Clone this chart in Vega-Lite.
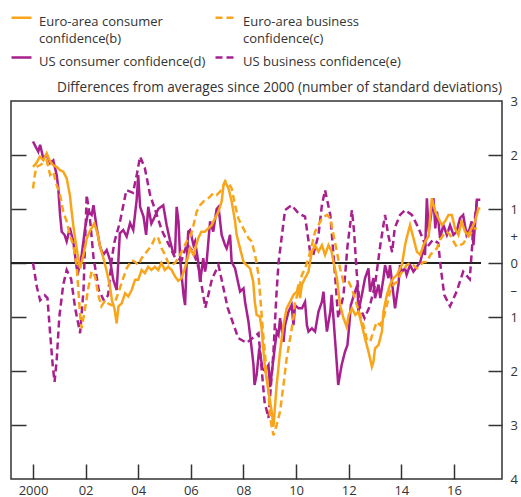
{
  "$schema": "https://vega.github.io/schema/vega-lite/v6.json",
  "width": 491,
  "height": 378,
  "autosize": {"type": "none"},
  "padding": {"left": 11, "top": 101, "right": 19, "bottom": 18},
  "config": {
    "font": "Open Sans",
    "view": {"stroke": "#333333", "strokeWidth": 1.5},
    "axis": {"grid": false, "domain": false, "labelFont": "Open Sans", "labelFontSize": 13, "labelColor": "#333333", "tickColor": "#333333", "tickWidth": 1.5, "title": null},
    "legend": {"orient": "none", "legendX": -1, "legendY": -95, "columns": 2, "title": null, "symbolType": "stroke", "symbolSize": 400, "symbolStrokeWidth": 2.5, "labelFontSize": 13, "labelFont": "Open Sans", "labelColor": "#333333", "labelOffset": 6, "labelLimit": 400, "labelBaseline": "top", "rowPadding": 0, "columnPadding": 4}
  },
  "title": {"text": "Differences from averages since 2000 (number of standard deviations)", "anchor": "end", "frame": "group", "fontSize": 13.6, "fontWeight": "normal", "color": "#333333", "offset": 6, "dy": 95, "font": "Open Sans"},
  "data": {"values": [
    {"s":"US business","t":2000.0,"v":0.0},{"s":"US business","t":2000.15,"v":-0.45},{"s":"US business","t":2000.27,"v":-0.69},{"s":"US business","t":2000.45,"v":-0.6},{"s":"US business","t":2000.55,"v":-0.65},{"s":"US business","t":2000.65,"v":-1.3},{"s":"US business","t":2000.75,"v":-1.9},{"s":"US business","t":2000.82,"v":-2.2},{"s":"US business","t":2000.9,"v":-1.8},{"s":"US business","t":2001.0,"v":-1.0},{"s":"US business","t":2001.15,"v":-0.4},{"s":"US business","t":2001.28,"v":-0.13},{"s":"US business","t":2001.45,"v":-0.3},{"s":"US business","t":2001.6,"v":-0.83},{"s":"US business","t":2001.79,"v":-1.3},{"s":"US business","t":2001.92,"v":-0.5},{"s":"US business","t":2002.04,"v":1.26},{"s":"US business","t":2002.15,"v":0.9},{"s":"US business","t":2002.3,"v":0.1},{"s":"US business","t":2002.5,"v":-0.5},{"s":"US business","t":2002.7,"v":-0.7},{"s":"US business","t":2002.85,"v":-0.6},{"s":"US business","t":2003.0,"v":0.1},{"s":"US business","t":2003.1,"v":0.4},{"s":"US business","t":2003.3,"v":0.75},{"s":"US business","t":2003.55,"v":1.35},{"s":"US business","t":2003.8,"v":1.3},{"s":"US business","t":2003.95,"v":1.65},{"s":"US business","t":2004.07,"v":1.97},{"s":"US business","t":2004.25,"v":1.76},{"s":"US business","t":2004.45,"v":1.26},{"s":"US business","t":2004.7,"v":0.9},{"s":"US business","t":2004.9,"v":0.6},{"s":"US business","t":2005.2,"v":0.3},{"s":"US business","t":2005.4,"v":0.1},{"s":"US business","t":2005.65,"v":0.05},{"s":"US business","t":2005.85,"v":0.35},{"s":"US business","t":2006.1,"v":0.2},{"s":"US business","t":2006.3,"v":-0.1},{"s":"US business","t":2006.55,"v":-0.83},{"s":"US business","t":2006.8,"v":-0.3},{"s":"US business","t":2007.05,"v":-0.04},{"s":"US business","t":2007.4,"v":-0.83},{"s":"US business","t":2007.8,"v":-1.39},{"s":"US business","t":2008.12,"v":-1.48},{"s":"US business","t":2008.57,"v":-1.3},{"s":"US business","t":2008.8,"v":-2.57},{"s":"US business","t":2008.95,"v":-2.87},{"s":"US business","t":2009.14,"v":-1.64},{"s":"US business","t":2009.25,"v":-0.6},{"s":"US business","t":2009.33,"v":0.0},{"s":"US business","t":2009.58,"v":0.98},{"s":"US business","t":2009.83,"v":1.07},{"s":"US business","t":2010.09,"v":0.92},{"s":"US business","t":2010.34,"v":0.86},{"s":"US business","t":2010.53,"v":0.21},{"s":"US business","t":2010.65,"v":0.15},{"s":"US business","t":2010.85,"v":0.52},{"s":"US business","t":2010.98,"v":1.07},{"s":"US business","t":2011.1,"v":1.35},{"s":"US business","t":2011.3,"v":0.89},{"s":"US business","t":2011.48,"v":-0.22},{"s":"US business","t":2011.6,"v":-1.02},{"s":"US business","t":2011.8,"v":-0.6},{"s":"US business","t":2011.95,"v":0.3},{"s":"US business","t":2012.12,"v":0.98},{"s":"US business","t":2012.2,"v":0.6},{"s":"US business","t":2012.3,"v":-0.16},{"s":"US business","t":2012.43,"v":-0.83},{"s":"US business","t":2012.6,"v":-1.02},{"s":"US business","t":2012.8,"v":-0.8},{"s":"US business","t":2013.0,"v":-0.4},{"s":"US business","t":2013.2,"v":0.33},{"s":"US business","t":2013.38,"v":0.89},{"s":"US business","t":2013.5,"v":0.52},{"s":"US business","t":2013.65,"v":0.2},{"s":"US business","t":2013.75,"v":0.65},{"s":"US business","t":2013.95,"v":0.89},{"s":"US business","t":2014.14,"v":0.98},{"s":"US business","t":2014.4,"v":0.89},{"s":"US business","t":2014.65,"v":0.65},{"s":"US business","t":2014.95,"v":0.28},{"s":"US business","t":2015.2,"v":0.43},{"s":"US business","t":2015.4,"v":0.37},{"s":"US business","t":2015.5,"v":-0.1},{"s":"US business","t":2015.63,"v":-0.59},{"s":"US business","t":2015.85,"v":-0.8},{"s":"US business","t":2016.1,"v":-0.53},{"s":"US business","t":2016.35,"v":-0.16},{"s":"US business","t":2016.6,"v":-0.3},{"s":"US business","t":2016.72,"v":0.52},{"s":"US business","t":2016.87,"v":1.14},{"s":"US business","t":2017.0,"v":1.14},

    {"s":"US consumer","t":2000.0,"v":2.25},{"s":"US consumer","t":2000.2,"v":2.06},{"s":"US consumer","t":2000.27,"v":2.19},{"s":"US consumer","t":2000.39,"v":1.94},{"s":"US consumer","t":2000.52,"v":2.0},{"s":"US consumer","t":2000.65,"v":1.85},{"s":"US consumer","t":2000.77,"v":1.9},{"s":"US consumer","t":2000.9,"v":1.63},{"s":"US consumer","t":2000.96,"v":1.39},{"s":"US consumer","t":2001.03,"v":0.89},{"s":"US consumer","t":2001.09,"v":0.58},{"s":"US consumer","t":2001.2,"v":0.52},{"s":"US consumer","t":2001.28,"v":0.4},{"s":"US consumer","t":2001.4,"v":0.65},{"s":"US consumer","t":2001.53,"v":0.4},{"s":"US consumer","t":2001.66,"v":-0.09},{"s":"US consumer","t":2001.72,"v":-0.16},{"s":"US consumer","t":2001.85,"v":0.15},{"s":"US consumer","t":2001.98,"v":0.65},{"s":"US consumer","t":2002.1,"v":0.95},{"s":"US consumer","t":2002.23,"v":0.89},{"s":"US consumer","t":2002.3,"v":1.07},{"s":"US consumer","t":2002.42,"v":0.65},{"s":"US consumer","t":2002.55,"v":0.3},{"s":"US consumer","t":2002.67,"v":0.15},{"s":"US consumer","t":2002.8,"v":0.24},{"s":"US consumer","t":2002.93,"v":0.05},{"s":"US consumer","t":2003.05,"v":-0.31},{"s":"US consumer","t":2003.18,"v":-0.5},{"s":"US consumer","t":2003.24,"v":0.0},{"s":"US consumer","t":2003.3,"v":0.55},{"s":"US consumer","t":2003.43,"v":0.61},{"s":"US consumer","t":2003.56,"v":0.49},{"s":"US consumer","t":2003.69,"v":0.74},{"s":"US consumer","t":2003.81,"v":0.61},{"s":"US consumer","t":2003.94,"v":1.17},{"s":"US consumer","t":2004.0,"v":1.63},{"s":"US consumer","t":2004.07,"v":1.04},{"s":"US consumer","t":2004.2,"v":0.86},{"s":"US consumer","t":2004.3,"v":0.52},{"s":"US consumer","t":2004.38,"v":1.04},{"s":"US consumer","t":2004.5,"v":0.73},{"s":"US consumer","t":2004.63,"v":0.86},{"s":"US consumer","t":2004.76,"v":1.0},{"s":"US consumer","t":2004.95,"v":1.07},{"s":"US consumer","t":2005.08,"v":0.7},{"s":"US consumer","t":2005.2,"v":0.43},{"s":"US consumer","t":2005.33,"v":0.18},{"s":"US consumer","t":2005.4,"v":0.2},{"s":"US consumer","t":2005.46,"v":1.04},{"s":"US consumer","t":2005.53,"v":0.77},{"s":"US consumer","t":2005.6,"v":0.02},{"s":"US consumer","t":2005.72,"v":-0.59},{"s":"US consumer","t":2005.78,"v":-0.78},{"s":"US consumer","t":2005.84,"v":0.0},{"s":"US consumer","t":2005.9,"v":0.58},{"s":"US consumer","t":2005.97,"v":0.61},{"s":"US consumer","t":2006.1,"v":0.33},{"s":"US consumer","t":2006.16,"v":0.4},{"s":"US consumer","t":2006.28,"v":0.02},{"s":"US consumer","t":2006.35,"v":-0.35},{"s":"US consumer","t":2006.47,"v":0.09},{"s":"US consumer","t":2006.54,"v":-0.16},{"s":"US consumer","t":2006.6,"v":0.02},{"s":"US consumer","t":2006.73,"v":0.77},{"s":"US consumer","t":2006.85,"v":0.58},{"s":"US consumer","t":2006.98,"v":1.0},{"s":"US consumer","t":2007.05,"v":1.04},{"s":"US consumer","t":2007.17,"v":0.52},{"s":"US consumer","t":2007.3,"v":0.33},{"s":"US consumer","t":2007.36,"v":0.27},{"s":"US consumer","t":2007.43,"v":0.4},{"s":"US consumer","t":2007.49,"v":0.52},{"s":"US consumer","t":2007.55,"v":0.02},{"s":"US consumer","t":2007.68,"v":-0.1},{"s":"US consumer","t":2007.87,"v":-0.53},{"s":"US consumer","t":2008.0,"v":-0.47},{"s":"US consumer","t":2008.06,"v":-0.72},{"s":"US consumer","t":2008.19,"v":-1.09},{"s":"US consumer","t":2008.31,"v":-1.58},{"s":"US consumer","t":2008.38,"v":-1.89},{"s":"US consumer","t":2008.42,"v":-2.26},{"s":"US consumer","t":2008.5,"v":-2.07},{"s":"US consumer","t":2008.6,"v":-1.58},{"s":"US consumer","t":2008.72,"v":-1.95},{"s":"US consumer","t":2008.82,"v":-2.0},{"s":"US consumer","t":2008.95,"v":-1.89},{"s":"US consumer","t":2009.01,"v":-2.3},{"s":"US consumer","t":2009.14,"v":-1.77},{"s":"US consumer","t":2009.2,"v":-1.52},{"s":"US consumer","t":2009.27,"v":-1.27},{"s":"US consumer","t":2009.33,"v":-1.33},{"s":"US consumer","t":2009.39,"v":-1.02},{"s":"US consumer","t":2009.52,"v":-1.46},{"s":"US consumer","t":2009.58,"v":-1.15},{"s":"US consumer","t":2009.71,"v":-0.9},{"s":"US consumer","t":2009.83,"v":-0.78},{"s":"US consumer","t":2009.9,"v":-1.15},{"s":"US consumer","t":2009.96,"v":-0.78},{"s":"US consumer","t":2010.09,"v":-0.84},{"s":"US consumer","t":2010.22,"v":-0.84},{"s":"US consumer","t":2010.34,"v":-0.72},{"s":"US consumer","t":2010.41,"v":-1.15},{"s":"US consumer","t":2010.47,"v":-1.27},{"s":"US consumer","t":2010.6,"v":-1.21},{"s":"US consumer","t":2010.72,"v":-1.27},{"s":"US consumer","t":2010.85,"v":-0.9},{"s":"US consumer","t":2010.98,"v":-0.72},{"s":"US consumer","t":2011.04,"v":-0.53},{"s":"US consumer","t":2011.1,"v":-0.9},{"s":"US consumer","t":2011.17,"v":-1.27},{"s":"US consumer","t":2011.3,"v":-0.9},{"s":"US consumer","t":2011.35,"v":-0.59},{"s":"US consumer","t":2011.42,"v":-1.02},{"s":"US consumer","t":2011.55,"v":-1.89},{"s":"US consumer","t":2011.6,"v":-2.26},{"s":"US consumer","t":2011.73,"v":-1.89},{"s":"US consumer","t":2011.86,"v":-1.64},{"s":"US consumer","t":2011.95,"v":-1.52},{"s":"US consumer","t":2012.02,"v":-1.15},{"s":"US consumer","t":2012.08,"v":-0.78},{"s":"US consumer","t":2012.2,"v":-0.59},{"s":"US consumer","t":2012.33,"v":-0.4},{"s":"US consumer","t":2012.37,"v":-0.9},{"s":"US consumer","t":2012.5,"v":-0.59},{"s":"US consumer","t":2012.62,"v":-0.28},{"s":"US consumer","t":2012.75,"v":-0.1},{"s":"US consumer","t":2012.81,"v":-0.53},{"s":"US consumer","t":2012.94,"v":-0.28},{"s":"US consumer","t":2013.0,"v":-0.65},{"s":"US consumer","t":2013.13,"v":-0.4},{"s":"US consumer","t":2013.2,"v":-0.65},{"s":"US consumer","t":2013.32,"v":-0.28},{"s":"US consumer","t":2013.38,"v":-0.04},{"s":"US consumer","t":2013.51,"v":-0.28},{"s":"US consumer","t":2013.57,"v":-0.04},{"s":"US consumer","t":2013.7,"v":-0.59},{"s":"US consumer","t":2013.76,"v":-0.84},{"s":"US consumer","t":2013.89,"v":-0.4},{"s":"US consumer","t":2013.95,"v":-0.04},{"s":"US consumer","t":2014.02,"v":-0.16},{"s":"US consumer","t":2014.14,"v":-0.1},{"s":"US consumer","t":2014.2,"v":-0.22},{"s":"US consumer","t":2014.33,"v":-0.04},{"s":"US consumer","t":2014.46,"v":-0.16},{"s":"US consumer","t":2014.59,"v":-0.07},{"s":"US consumer","t":2014.72,"v":0.02},{"s":"US consumer","t":2014.84,"v":0.27},{"s":"US consumer","t":2014.9,"v":0.15},{"s":"US consumer","t":2014.93,"v":0.64},{"s":"US consumer","t":2014.97,"v":1.2},{"s":"US consumer","t":2015.04,"v":0.58},{"s":"US consumer","t":2015.16,"v":1.0},{"s":"US consumer","t":2015.22,"v":1.2},{"s":"US consumer","t":2015.29,"v":0.64},{"s":"US consumer","t":2015.35,"v":0.95},{"s":"US consumer","t":2015.41,"v":0.77},{"s":"US consumer","t":2015.47,"v":0.46},{"s":"US consumer","t":2015.6,"v":0.7},{"s":"US consumer","t":2015.73,"v":0.52},{"s":"US consumer","t":2015.85,"v":0.7},{"s":"US consumer","t":2015.98,"v":0.52},{"s":"US consumer","t":2016.1,"v":0.58},{"s":"US consumer","t":2016.23,"v":0.83},{"s":"US consumer","t":2016.35,"v":0.89},{"s":"US consumer","t":2016.48,"v":0.52},{"s":"US consumer","t":2016.6,"v":0.64},{"s":"US consumer","t":2016.67,"v":0.77},{"s":"US consumer","t":2016.74,"v":0.33},{"s":"US consumer","t":2016.87,"v":1.17},{"s":"US consumer","t":2017.0,"v":1.17},

    {"s":"Euro-area business","t":2000.0,"v":1.38},{"s":"Euro-area business","t":2000.07,"v":1.63},{"s":"Euro-area business","t":2000.13,"v":1.78},{"s":"Euro-area business","t":2000.26,"v":1.81},{"s":"Euro-area business","t":2000.39,"v":1.85},{"s":"Euro-area business","t":2000.52,"v":1.9},{"s":"Euro-area business","t":2000.65,"v":1.63},{"s":"Euro-area business","t":2000.77,"v":1.69},{"s":"Euro-area business","t":2000.9,"v":1.44},{"s":"Euro-area business","t":2001.03,"v":1.26},{"s":"Euro-area business","t":2001.15,"v":0.95},{"s":"Euro-area business","t":2001.28,"v":0.77},{"s":"Euro-area business","t":2001.4,"v":0.52},{"s":"Euro-area business","t":2001.53,"v":0.33},{"s":"Euro-area business","t":2001.66,"v":-0.04},{"s":"Euro-area business","t":2001.72,"v":-0.47},{"s":"Euro-area business","t":2001.79,"v":-0.96},{"s":"Euro-area business","t":2001.85,"v":-1.21},{"s":"Euro-area business","t":2001.98,"v":-0.84},{"s":"Euro-area business","t":2002.1,"v":-0.47},{"s":"Euro-area business","t":2002.23,"v":-0.15},{"s":"Euro-area business","t":2002.36,"v":-0.25},{"s":"Euro-area business","t":2002.48,"v":-0.59},{"s":"Euro-area business","t":2002.6,"v":-0.8},{"s":"Euro-area business","t":2002.74,"v":-0.69},{"s":"Euro-area business","t":2002.86,"v":-0.75},{"s":"Euro-area business","t":2002.98,"v":-0.78},{"s":"Euro-area business","t":2003.1,"v":-0.75},{"s":"Euro-area business","t":2003.3,"v":-0.47},{"s":"Euro-area business","t":2003.43,"v":-0.28},{"s":"Euro-area business","t":2003.56,"v":-0.1},{"s":"Euro-area business","t":2003.75,"v":0.05},{"s":"Euro-area business","t":2003.88,"v":0.02},{"s":"Euro-area business","t":2004.0,"v":-0.04},{"s":"Euro-area business","t":2004.13,"v":0.09},{"s":"Euro-area business","t":2004.32,"v":0.21},{"s":"Euro-area business","t":2004.51,"v":0.33},{"s":"Euro-area business","t":2004.63,"v":0.46},{"s":"Euro-area business","t":2004.74,"v":0.49},{"s":"Euro-area business","t":2004.89,"v":0.27},{"s":"Euro-area business","t":2005.02,"v":0.15},{"s":"Euro-area business","t":2005.14,"v":0.0},{"s":"Euro-area business","t":2005.27,"v":-0.04},{"s":"Euro-area business","t":2005.4,"v":0.0},{"s":"Euro-area business","t":2005.59,"v":0.15},{"s":"Euro-area business","t":2005.71,"v":0.27},{"s":"Euro-area business","t":2005.84,"v":0.4},{"s":"Euro-area business","t":2005.97,"v":0.46},{"s":"Euro-area business","t":2006.1,"v":0.7},{"s":"Euro-area business","t":2006.22,"v":0.95},{"s":"Euro-area business","t":2006.35,"v":1.07},{"s":"Euro-area business","t":2006.48,"v":1.14},{"s":"Euro-area business","t":2006.6,"v":1.17},{"s":"Euro-area business","t":2006.73,"v":1.23},{"s":"Euro-area business","t":2006.85,"v":1.29},{"s":"Euro-area business","t":2006.98,"v":1.26},{"s":"Euro-area business","t":2007.11,"v":1.32},{"s":"Euro-area business","t":2007.24,"v":1.44},{"s":"Euro-area business","t":2007.3,"v":1.51},{"s":"Euro-area business","t":2007.43,"v":1.48},{"s":"Euro-area business","t":2007.55,"v":1.38},{"s":"Euro-area business","t":2007.68,"v":1.07},{"s":"Euro-area business","t":2007.8,"v":0.83},{"s":"Euro-area business","t":2007.93,"v":0.7},{"s":"Euro-area business","t":2008.06,"v":0.58},{"s":"Euro-area business","t":2008.19,"v":0.46},{"s":"Euro-area business","t":2008.31,"v":0.4},{"s":"Euro-area business","t":2008.44,"v":0.15},{"s":"Euro-area business","t":2008.57,"v":-0.22},{"s":"Euro-area business","t":2008.63,"v":-0.59},{"s":"Euro-area business","t":2008.69,"v":-0.96},{"s":"Euro-area business","t":2008.75,"v":-1.33},{"s":"Euro-area business","t":2008.82,"v":-1.7},{"s":"Euro-area business","t":2008.88,"v":-2.07},{"s":"Euro-area business","t":2008.95,"v":-2.38},{"s":"Euro-area business","t":2009.01,"v":-2.87},{"s":"Euro-area business","t":2009.14,"v":-3.19},{"s":"Euro-area business","t":2009.26,"v":-3.0},{"s":"Euro-area business","t":2009.39,"v":-2.75},{"s":"Euro-area business","t":2009.52,"v":-2.26},{"s":"Euro-area business","t":2009.64,"v":-1.77},{"s":"Euro-area business","t":2009.77,"v":-1.4},{"s":"Euro-area business","t":2009.9,"v":-1.02},{"s":"Euro-area business","t":2009.96,"v":-0.72},{"s":"Euro-area business","t":2010.09,"v":-0.53},{"s":"Euro-area business","t":2010.22,"v":-0.22},{"s":"Euro-area business","t":2010.34,"v":-0.1},{"s":"Euro-area business","t":2010.47,"v":0.09},{"s":"Euro-area business","t":2010.6,"v":0.33},{"s":"Euro-area business","t":2010.72,"v":0.58},{"s":"Euro-area business","t":2010.85,"v":0.7},{"s":"Euro-area business","t":2010.98,"v":0.83},{"s":"Euro-area business","t":2011.17,"v":0.89},{"s":"Euro-area business","t":2011.3,"v":0.83},{"s":"Euro-area business","t":2011.42,"v":0.52},{"s":"Euro-area business","t":2011.55,"v":0.21},{"s":"Euro-area business","t":2011.67,"v":-0.1},{"s":"Euro-area business","t":2011.8,"v":-0.35},{"s":"Euro-area business","t":2011.92,"v":-0.35},{"s":"Euro-area business","t":2012.0,"v":-0.35},{"s":"Euro-area business","t":2012.12,"v":-0.47},{"s":"Euro-area business","t":2012.31,"v":-0.78},{"s":"Euro-area business","t":2012.43,"v":-0.96},{"s":"Euro-area business","t":2012.56,"v":-1.15},{"s":"Euro-area business","t":2012.68,"v":-1.4},{"s":"Euro-area business","t":2012.81,"v":-1.46},{"s":"Euro-area business","t":2012.94,"v":-1.27},{"s":"Euro-area business","t":2013.06,"v":-1.09},{"s":"Euro-area business","t":2013.19,"v":-1.15},{"s":"Euro-area business","t":2013.32,"v":-1.02},{"s":"Euro-area business","t":2013.45,"v":-0.78},{"s":"Euro-area business","t":2013.57,"v":-0.53},{"s":"Euro-area business","t":2013.7,"v":-0.4},{"s":"Euro-area business","t":2013.83,"v":-0.35},{"s":"Euro-area business","t":2013.95,"v":-0.22},{"s":"Euro-area business","t":2014.08,"v":-0.13},{"s":"Euro-area business","t":2014.2,"v":-0.04},{"s":"Euro-area business","t":2014.33,"v":0.0},{"s":"Euro-area business","t":2014.46,"v":-0.04},{"s":"Euro-area business","t":2014.59,"v":-0.1},{"s":"Euro-area business","t":2014.72,"v":-0.04},{"s":"Euro-area business","t":2014.84,"v":0.02},{"s":"Euro-area business","t":2014.97,"v":0.02},{"s":"Euro-area business","t":2015.1,"v":0.15},{"s":"Euro-area business","t":2015.22,"v":0.21},{"s":"Euro-area business","t":2015.35,"v":0.27},{"s":"Euro-area business","t":2015.47,"v":0.43},{"s":"Euro-area business","t":2015.6,"v":0.52},{"s":"Euro-area business","t":2015.73,"v":0.58},{"s":"Euro-area business","t":2015.85,"v":0.52},{"s":"Euro-area business","t":2015.98,"v":0.4},{"s":"Euro-area business","t":2016.1,"v":0.3},{"s":"Euro-area business","t":2016.23,"v":0.33},{"s":"Euro-area business","t":2016.35,"v":0.36},{"s":"Euro-area business","t":2016.48,"v":0.46},{"s":"Euro-area business","t":2016.6,"v":0.52},{"s":"Euro-area business","t":2016.74,"v":0.64},{"s":"Euro-area business","t":2016.87,"v":0.64},

    {"s":"Euro-area consumer","t":2000.0,"v":1.78},{"s":"Euro-area consumer","t":2000.13,"v":1.85},{"s":"Euro-area consumer","t":2000.26,"v":1.97},{"s":"Euro-area consumer","t":2000.39,"v":1.9},{"s":"Euro-area consumer","t":2000.52,"v":2.03},{"s":"Euro-area consumer","t":2000.65,"v":1.88},{"s":"Euro-area consumer","t":2000.77,"v":1.81},{"s":"Euro-area consumer","t":2000.9,"v":1.78},{"s":"Euro-area consumer","t":2001.03,"v":1.72},{"s":"Euro-area consumer","t":2001.15,"v":1.69},{"s":"Euro-area consumer","t":2001.28,"v":1.57},{"s":"Euro-area consumer","t":2001.4,"v":1.26},{"s":"Euro-area consumer","t":2001.47,"v":0.95},{"s":"Euro-area consumer","t":2001.53,"v":0.7},{"s":"Euro-area consumer","t":2001.6,"v":0.46},{"s":"Euro-area consumer","t":2001.66,"v":0.27},{"s":"Euro-area consumer","t":2001.72,"v":0.09},{"s":"Euro-area consumer","t":2001.79,"v":-0.1},{"s":"Euro-area consumer","t":2001.92,"v":0.15},{"s":"Euro-area consumer","t":2002.04,"v":0.45},{"s":"Euro-area consumer","t":2002.17,"v":0.6},{"s":"Euro-area consumer","t":2002.33,"v":0.73},{"s":"Euro-area consumer","t":2002.45,"v":0.55},{"s":"Euro-area consumer","t":2002.55,"v":0.3},{"s":"Euro-area consumer","t":2002.67,"v":0.1},{"s":"Euro-area consumer","t":2002.8,"v":-0.15},{"s":"Euro-area consumer","t":2002.93,"v":-0.45},{"s":"Euro-area consumer","t":2003.0,"v":-0.69},{"s":"Euro-area consumer","t":2003.1,"v":-0.85},{"s":"Euro-area consumer","t":2003.18,"v":-1.12},{"s":"Euro-area consumer","t":2003.25,"v":-0.8},{"s":"Euro-area consumer","t":2003.37,"v":-0.75},{"s":"Euro-area consumer","t":2003.5,"v":-0.56},{"s":"Euro-area consumer","t":2003.62,"v":-0.62},{"s":"Euro-area consumer","t":2003.75,"v":-0.5},{"s":"Euro-area consumer","t":2003.88,"v":-0.31},{"s":"Euro-area consumer","t":2004.0,"v":-0.31},{"s":"Euro-area consumer","t":2004.13,"v":-0.13},{"s":"Euro-area consumer","t":2004.25,"v":-0.19},{"s":"Euro-area consumer","t":2004.38,"v":-0.07},{"s":"Euro-area consumer","t":2004.5,"v":-0.13},{"s":"Euro-area consumer","t":2004.63,"v":-0.07},{"s":"Euro-area consumer","t":2004.76,"v":-0.13},{"s":"Euro-area consumer","t":2004.88,"v":0.0},{"s":"Euro-area consumer","t":2005.01,"v":-0.13},{"s":"Euro-area consumer","t":2005.14,"v":-0.07},{"s":"Euro-area consumer","t":2005.27,"v":-0.13},{"s":"Euro-area consumer","t":2005.4,"v":-0.25},{"s":"Euro-area consumer","t":2005.52,"v":-0.33},{"s":"Euro-area consumer","t":2005.65,"v":-0.28},{"s":"Euro-area consumer","t":2005.77,"v":-0.1},{"s":"Euro-area consumer","t":2005.84,"v":0.02},{"s":"Euro-area consumer","t":2005.97,"v":0.27},{"s":"Euro-area consumer","t":2006.1,"v":0.15},{"s":"Euro-area consumer","t":2006.28,"v":0.46},{"s":"Euro-area consumer","t":2006.4,"v":0.58},{"s":"Euro-area consumer","t":2006.53,"v":0.58},{"s":"Euro-area consumer","t":2006.66,"v":0.64},{"s":"Euro-area consumer","t":2006.79,"v":0.7},{"s":"Euro-area consumer","t":2006.92,"v":0.83},{"s":"Euro-area consumer","t":2007.05,"v":0.95},{"s":"Euro-area consumer","t":2007.17,"v":1.14},{"s":"Euro-area consumer","t":2007.24,"v":1.44},{"s":"Euro-area consumer","t":2007.3,"v":1.51},{"s":"Euro-area consumer","t":2007.43,"v":1.38},{"s":"Euro-area consumer","t":2007.55,"v":1.14},{"s":"Euro-area consumer","t":2007.68,"v":0.77},{"s":"Euro-area consumer","t":2007.74,"v":0.52},{"s":"Euro-area consumer","t":2007.87,"v":0.27},{"s":"Euro-area consumer","t":2008.0,"v":0.02},{"s":"Euro-area consumer","t":2008.12,"v":-0.04},{"s":"Euro-area consumer","t":2008.25,"v":-0.1},{"s":"Euro-area consumer","t":2008.37,"v":-0.35},{"s":"Euro-area consumer","t":2008.43,"v":-0.72},{"s":"Euro-area consumer","t":2008.5,"v":-0.96},{"s":"Euro-area consumer","t":2008.62,"v":-0.99},{"s":"Euro-area consumer","t":2008.69,"v":-1.21},{"s":"Euro-area consumer","t":2008.75,"v":-1.58},{"s":"Euro-area consumer","t":2008.82,"v":-1.95},{"s":"Euro-area consumer","t":2008.95,"v":-2.38},{"s":"Euro-area consumer","t":2009.07,"v":-2.75},{"s":"Euro-area consumer","t":2009.14,"v":-3.03},{"s":"Euro-area consumer","t":2009.26,"v":-2.26},{"s":"Euro-area consumer","t":2009.39,"v":-1.64},{"s":"Euro-area consumer","t":2009.52,"v":-1.15},{"s":"Euro-area consumer","t":2009.64,"v":-0.84},{"s":"Euro-area consumer","t":2009.77,"v":-0.72},{"s":"Euro-area consumer","t":2009.9,"v":-0.59},{"s":"Euro-area consumer","t":2010.03,"v":-0.53},{"s":"Euro-area consumer","t":2010.09,"v":-0.4},{"s":"Euro-area consumer","t":2010.15,"v":-0.65},{"s":"Euro-area consumer","t":2010.22,"v":-0.4},{"s":"Euro-area consumer","t":2010.34,"v":-0.28},{"s":"Euro-area consumer","t":2010.47,"v":-0.16},{"s":"Euro-area consumer","t":2010.53,"v":0.02},{"s":"Euro-area consumer","t":2010.6,"v":0.21},{"s":"Euro-area consumer","t":2010.72,"v":0.33},{"s":"Euro-area consumer","t":2010.85,"v":0.21},{"s":"Euro-area consumer","t":2010.98,"v":0.33},{"s":"Euro-area consumer","t":2011.1,"v":0.15},{"s":"Euro-area consumer","t":2011.23,"v":0.33},{"s":"Euro-area consumer","t":2011.35,"v":0.21},{"s":"Euro-area consumer","t":2011.42,"v":0.02},{"s":"Euro-area consumer","t":2011.55,"v":-0.28},{"s":"Euro-area consumer","t":2011.67,"v":-0.78},{"s":"Euro-area consumer","t":2011.8,"v":-1.02},{"s":"Euro-area consumer","t":2011.92,"v":-1.18},{"s":"Euro-area consumer","t":2012.0,"v":-0.96},{"s":"Euro-area consumer","t":2012.12,"v":-0.84},{"s":"Euro-area consumer","t":2012.25,"v":-0.96},{"s":"Euro-area consumer","t":2012.37,"v":-0.9},{"s":"Euro-area consumer","t":2012.5,"v":-1.15},{"s":"Euro-area consumer","t":2012.62,"v":-1.4},{"s":"Euro-area consumer","t":2012.75,"v":-1.64},{"s":"Euro-area consumer","t":2012.88,"v":-1.92},{"s":"Euro-area consumer","t":2012.94,"v":-1.83},{"s":"Euro-area consumer","t":2013.0,"v":-1.58},{"s":"Euro-area consumer","t":2013.13,"v":-1.52},{"s":"Euro-area consumer","t":2013.26,"v":-1.27},{"s":"Euro-area consumer","t":2013.32,"v":-0.9},{"s":"Euro-area consumer","t":2013.45,"v":-0.59},{"s":"Euro-area consumer","t":2013.57,"v":-0.4},{"s":"Euro-area consumer","t":2013.7,"v":-0.28},{"s":"Euro-area consumer","t":2013.83,"v":-0.22},{"s":"Euro-area consumer","t":2013.89,"v":-0.16},{"s":"Euro-area consumer","t":2014.02,"v":-0.04},{"s":"Euro-area consumer","t":2014.14,"v":0.33},{"s":"Euro-area consumer","t":2014.2,"v":0.46},{"s":"Euro-area consumer","t":2014.33,"v":0.7},{"s":"Euro-area consumer","t":2014.46,"v":0.46},{"s":"Euro-area consumer","t":2014.59,"v":0.21},{"s":"Euro-area consumer","t":2014.72,"v":0.15},{"s":"Euro-area consumer","t":2014.84,"v":0.33},{"s":"Euro-area consumer","t":2014.9,"v":0.39},{"s":"Euro-area consumer","t":2015.04,"v":0.5},{"s":"Euro-area consumer","t":2015.1,"v":0.89},{"s":"Euro-area consumer","t":2015.16,"v":1.2},{"s":"Euro-area consumer","t":2015.29,"v":0.95},{"s":"Euro-area consumer","t":2015.41,"v":0.83},{"s":"Euro-area consumer","t":2015.54,"v":0.7},{"s":"Euro-area consumer","t":2015.66,"v":0.77},{"s":"Euro-area consumer","t":2015.79,"v":0.89},{"s":"Euro-area consumer","t":2015.92,"v":0.89},{"s":"Euro-area consumer","t":2016.04,"v":0.64},{"s":"Euro-area consumer","t":2016.17,"v":0.52},{"s":"Euro-area consumer","t":2016.29,"v":0.77},{"s":"Euro-area consumer","t":2016.42,"v":0.58},{"s":"Euro-area consumer","t":2016.54,"v":0.52},{"s":"Euro-area consumer","t":2016.67,"v":0.64},{"s":"Euro-area consumer","t":2016.8,"v":0.77},{"s":"Euro-area consumer","t":2016.93,"v":1.01},{"s":"Euro-area consumer","t":2017.0,"v":1.01}
  ]},
  "layer": [
    {
      "mark": {"type": "rule", "color": "#222222", "strokeWidth": 1.5},
      "encoding": {
        "x": {"datum": 1999.164, "type": "quantitative"},
        "x2": {"datum": 2017.0},
        "y": {"datum": 0, "type": "quantitative", "axis": {"orient": "right", "values": [3, 2, 1, 0.5, 0, -0.5, -1, -2, -3, -4], "labelExpr": "datum.value == 0.5 ? '+' : datum.value == -0.5 ? '–' : format(abs(datum.value), 'd')", "tickSize": -14, "labelPadding": 22, "labelFlush": false, "labelOverlap": false, "labelAlign": "left", "tickOpacity": {"condition": {"test": "abs(datum.value) == 0.5 || datum.value == 3 || datum.value == -4", "value": 0}, "value": 1}}}
      }
    },
    {
      "mark": {"type": "line", "strokeWidth": 2.5},
      "encoding": {
        "x": {"field": "t", "type": "quantitative", "scale": {"domain": [1999.164, 2017.825], "nice": false, "zero": false}, "axis": {"orient": "bottom", "values": [2000, 2002, 2004, 2006, 2008, 2010, 2012, 2014, 2016], "labelExpr": "datum.value == 2000 ? '2000' : format(datum.value - 2000, '02d')", "tickSize": -15, "labelPadding": 20, "labelFlush": false}},
        "y": {"field": "v", "type": "quantitative", "scale": {"domain": [-4, 3], "nice": false, "zero": false}, "axis": {"orient": "left", "values": [-3, -2, -1, 0, 1, 2], "labels": false, "tickSize": -15}},
        "color": {"field": "s", "type": "nominal", "scale": {"domain": ["Euro-area consumer", "US consumer", "Euro-area business", "US business"], "range": ["#F9A51B", "#A8208E", "#F9A51B", "#A8208E"]}, "legend": {"labelExpr": "datum.label == 'Euro-area consumer' ? ['Euro-area consumer', '  confidence(b)'] : datum.label == 'Euro-area business' ? ['Euro-area business', '  confidence(c)'] : datum.label == 'US consumer' ? 'US consumer confidence(d)' : 'US business confidence(e)'", "encode": {"labels": {"update": {"lineHeight": {"value": 17}, "dy": {"value": -2}}}}}},
        "strokeDash": {"field": "s", "type": "nominal", "scale": {"domain": ["Euro-area consumer", "US consumer", "Euro-area business", "US business"], "range": [[1, 0], [1, 0], [7, 4], [7, 4]]}, "legend": {"labelExpr": "datum.label == 'Euro-area consumer' ? ['Euro-area consumer', '  confidence(b)'] : datum.label == 'Euro-area business' ? ['Euro-area business', '  confidence(c)'] : datum.label == 'US consumer' ? 'US consumer confidence(d)' : 'US business confidence(e)'", "encode": {"labels": {"update": {"lineHeight": {"value": 17}, "dy": {"value": -2}}}}}}
      }
    }
  ],
  "resolve": {"axis": {"y": "independent"}}
}
